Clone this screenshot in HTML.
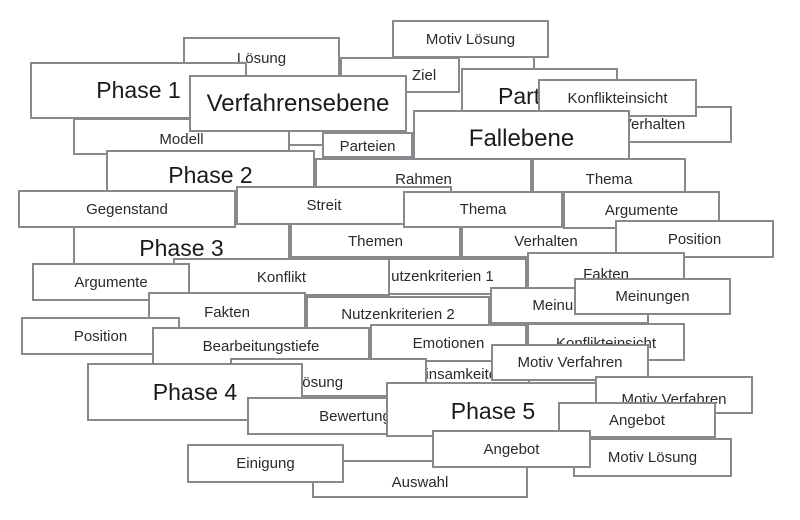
<!DOCTYPE html>
<html><head><meta charset="utf-8"><style>
body{margin:0;width:800px;height:520px;background:#fff;position:relative;overflow:hidden;font-family:"Liberation Sans",sans-serif;}
.b{position:absolute;box-sizing:border-box;border:2px solid #88898c;background:#fff;display:flex;align-items:center;justify-content:center;font-size:15px;color:#2a2a2a;white-space:nowrap;overflow:hidden}
.L{font-size:23px;color:#1a1a1a}
.ln{position:absolute;background:#88898c}
</style></head><body>
<div class="b" style="left:340px;top:57px;width:120px;height:36px;justify-content:flex-start;padding-left:70px">Ziel</div>
<div class="b" style="left:183px;top:37px;width:157px;height:40px;align-items:flex-start;padding-top:11px">Lösung</div>
<div class="b" style="left:392px;top:20px;width:157px;height:38px">Motiv Lösung</div>
<div class="ln" style="left:533px;top:58px;width:2px;height:10px"></div>
<div class="b L" style="left:461px;top:68px;width:157px;height:57px;justify-content:flex-start;padding-left:35px">Parteiebene</div>
<div class="b L" style="left:30px;top:62px;width:217px;height:57px">Phase 1</div>
<div class="b" style="left:73px;top:118px;width:217px;height:37px;padding-top:6px">Modell</div>
<div class="b L" style="left:189px;top:75px;width:218px;height:57px;font-size:24px">Verfahrensebene</div>
<div class="b" style="left:575px;top:106px;width:157px;height:37px">Verhalten</div>
<div class="b" style="left:538px;top:79px;width:159px;height:38px">Konflikteinsicht</div>
<div class="b L" style="left:413px;top:110px;width:217px;height:57px;font-size:24px">Fallebene</div>
<div class="ln" style="left:290px;top:144px;width:34px;height:2px"></div>
<div class="b" style="left:322px;top:132px;width:91px;height:26px;align-items:flex-end;padding-bottom:1px">Parteien</div>
<div class="b L" style="left:106px;top:150px;width:209px;height:56px;align-items:flex-start;padding-top:10px">Phase 2</div>
<div class="b" style="left:315px;top:158px;width:217px;height:38px;align-items:flex-end;padding-bottom:6px">Rahmen</div>
<div class="b" style="left:532px;top:158px;width:154px;height:38px;align-items:flex-end;padding-bottom:6px">Thema</div>
<div class="b L" style="left:73px;top:215px;width:217px;height:70px;align-items:flex-start;padding-top:18px">Phase 3</div>
<div class="b" style="left:290px;top:215px;width:171px;height:43px;align-items:flex-end;padding-bottom:6px">Themen</div>
<div class="b" style="left:461px;top:215px;width:170px;height:43px;align-items:flex-end;padding-bottom:6px">Verhalten</div>
<div class="b" style="left:18px;top:190px;width:218px;height:38px">Gegenstand</div>
<div class="b" style="left:236px;top:186px;width:216px;height:39px;padding-right:40px">Streit</div>
<div class="b" style="left:403px;top:191px;width:160px;height:37px">Thema</div>
<div class="b" style="left:563px;top:191px;width:157px;height:38px">Argumente</div>
<div class="b" style="left:615px;top:220px;width:159px;height:38px">Position</div>
<div class="b" style="left:345px;top:258px;width:182px;height:37px;padding-left:2px">Nutzenkriterien 1</div>
<div class="b" style="left:527px;top:252px;width:158px;height:41px;align-items:flex-end;padding-bottom:8px">Fakten</div>
<div class="b" style="left:173px;top:258px;width:217px;height:38px">Konflikt</div>
<div class="b" style="left:32px;top:263px;width:158px;height:38px">Argumente</div>
<div class="b" style="left:148px;top:292px;width:158px;height:38px;align-items:flex-start;padding-top:10px">Fakten</div>
<div class="b" style="left:306px;top:296px;width:184px;height:37px">Nutzenkriterien 2</div>
<div class="b" style="left:490px;top:287px;width:159px;height:37px">Meinungen</div>
<div class="b" style="left:574px;top:278px;width:157px;height:37px">Meinungen</div>
<div class="b" style="left:21px;top:317px;width:159px;height:38px">Position</div>
<div class="b" style="left:360px;top:355px;width:170px;height:36px;padding-top:2px">Gemeinsamkeiten</div>
<div class="b" style="left:527px;top:323px;width:158px;height:38px;align-items:flex-start;padding-top:10px">Konflikteinsicht</div>
<div class="b" style="left:370px;top:324px;width:157px;height:38px">Emotionen</div>
<div class="b" style="left:152px;top:327px;width:218px;height:38px">Bearbeitungstiefe</div>
<div class="b" style="left:230px;top:358px;width:197px;height:39px;padding-top:10px;padding-right:20px">Lösung</div>
<div class="b L" style="left:87px;top:363px;width:216px;height:58px">Phase 4</div>
<div class="b" style="left:247px;top:397px;width:216px;height:38px">Bewertung</div>
<div class="b" style="left:491px;top:344px;width:158px;height:37px">Motiv Verfahren</div>
<div class="b L" style="left:386px;top:382px;width:214px;height:55px;align-items:flex-start;padding-top:14px">Phase 5</div>
<div class="b" style="left:595px;top:376px;width:158px;height:38px;padding-top:8px">Motiv Verfahren</div>
<div class="b" style="left:573px;top:438px;width:159px;height:39px">Motiv Lösung</div>
<div class="b" style="left:558px;top:402px;width:158px;height:36px">Angebot</div>
<div class="b" style="left:312px;top:460px;width:216px;height:38px;padding-top:6px">Auswahl</div>
<div class="b" style="left:187px;top:444px;width:157px;height:39px">Einigung</div>
<div class="b" style="left:432px;top:430px;width:159px;height:38px">Angebot</div>
</body></html>
